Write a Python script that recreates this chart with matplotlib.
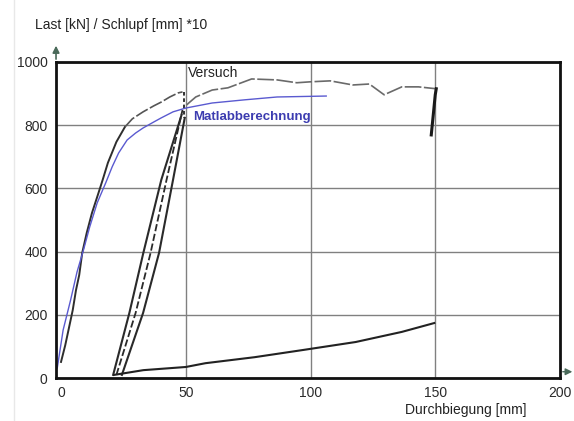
import matplotlib
matplotlib.use("Agg")
import matplotlib.pyplot as plt
from matplotlib.lines import Line2D

plt.rcParams['font.family'] = ['Liberation Sans', 'DejaVu Sans']

# Versuch (Messkurve), Erstbelastung bis Entlastung bei ~50 mm
versuch_x = [0, 1.7, 3.0, 4.7, 6.0, 7.3, 8.5, 10.3, 12.4, 15.0, 16.7, 18.8, 22.2, 25.6,
             28.6, 32.9, 37.2, 40.2, 43.6, 47.0, 48.7]
versuch_y = [51, 104, 152, 215, 278, 326, 396, 459, 522, 585, 627, 681, 747, 794,
             820, 842, 861, 873, 889, 902, 905]
# Versuch nach Wiederbelastung
versuch2_x = [49.1, 49.1, 50.4, 51.2, 54, 60.6, 66.9, 76.4, 86.6, 94.5, 100, 107.9,
              117, 123.6, 129.5, 136.6, 143.3, 150.4, 150, 149.2, 148.4]
versuch2_y = [905, 823, 864, 870, 889, 911, 918, 946, 943, 934, 937, 940,
              927, 930, 896, 921, 921, 915, 896, 832, 769]

# Ent-/Wiederbelastungsschleifen
loop1_x = [20.9, 27.4, 33, 40.2, 48.3]
loop1_y = [10, 206, 396, 627, 832]
loop2_x = [22.2, 29.9, 35.9, 42.3, 48.7]
loop2_y = [10, 206, 396, 627, 848]
loop3_x = [24.4, 32.9, 39.3, 44.9, 49.6]
loop3_y = [10, 206, 396, 627, 823]

# Schlupf *10
schlupf_x = [21.3, 33, 50, 57.9, 77.6, 97.2, 118.1, 136.6, 149.6]
schlupf_y = [10, 25, 35, 47, 66, 89, 114, 146, 174]

# Matlabberechnung
matlab_x = [-1.5, 0.85, 3.85, 6.4, 9.0, 11.5, 14.5, 17.9, 20.5, 23.1, 26.5, 29.9,
            32.9, 37.2, 40.2, 44.9, 50, 60.6, 73.6, 86.6, 106.3]
matlab_y = [32, 152, 247, 335, 405, 478, 554, 617, 668, 712, 753, 775,
            791, 810, 823, 842, 854, 870, 880, 889, 892]

x_ticks = [0, 50, 100, 150, 200]
y_ticks = [0, 200, 400, 600, 800, 1000]

fig = plt.figure(figsize=(5.74, 4.21), dpi=100)
ax = fig.add_axes([0.0976, 0.102, 0.878, 0.751])

k = 14  # Übergang dunkel -> gestrichelt
ax.plot(versuch_x[:k], versuch_y[:k], color='#2e2e2e', lw=1.4)
ax.plot(versuch_x[k - 1:], versuch_y[k - 1:], color='#555555', lw=1.2,
        linestyle=(0, (8, 1.5)))
ax.plot(versuch2_x[:2], versuch2_y[:2], color='#222222', lw=1.3, linestyle=(0, (2, 1.5)))
ax.plot(versuch2_x[2:-3], versuch2_y[2:-3], color='#6a6a6a', lw=1.2, linestyle=(0, (10, 1.5)))
ax.plot(versuch2_x[-4:], versuch2_y[-4:], color='#1a1a1a', lw=2.2)
ax.plot(loop1_x, loop1_y, color='#2a2a2a', lw=1.5)
ax.plot(loop2_x, loop2_y, color='#2a2a2a', lw=1.3, linestyle=(0, (4, 1.5)))
ax.plot(loop3_x, loop3_y, color='#2a2a2a', lw=1.5)
ax.plot(schlupf_x, schlupf_y, color='#222222', lw=1.5)
ax.plot(matlab_x, matlab_y, color='#5a5ad0', lw=1.0)

ax.text(50.8, 965, 'Versuch', fontsize=10, color='#222222', va='center')
ax.text(53, 826, 'Matlabberechnung', fontsize=9.5, color='#3c3cb0',
        fontweight='bold', va='center')

ax.set_xlim(-2, 200)
ax.set_ylim(0, 1000)
ax.set_xticks(x_ticks)
ax.set_yticks(y_ticks)
ax.tick_params(length=0, labelsize=10, labelcolor='#2a2a2a', pad=6)
ax.grid(True, color='#808080', lw=1.0)
ax.xaxis.get_gridlines()[0].set_visible(False)
for s in ax.spines.values():
    s.set_linewidth(2)
    s.set_color('#111111')

# Achsenpfeile
ax.annotate('', xy=(0, 1.06), xytext=(0, 1.0), xycoords='axes fraction',
            arrowprops=dict(arrowstyle='-|>', color='#4a6a5a', lw=1.2), annotation_clip=False)
ax.annotate('', xy=(1.03, 0.02), xytext=(1.0, 0.02), xycoords='axes fraction',
            arrowprops=dict(arrowstyle='-|>', color='#4a6a5a', lw=1.0), annotation_clip=False)

fig.text(35 / 574, 1 - 25 / 421, 'Last [kN] / Schlupf [mm] *10', fontsize=10,
         color='#222222', va='center', ha='left')
fig.text(405 / 574, 1 - 410 / 421, 'Durchbiegung [mm]', fontsize=10,
         color='#222222', va='center', ha='left')

fig.add_artist(Line2D([14 / 574, 14 / 574], [0, 1], color='#e8e8e8', lw=1))

fig.savefig('out.png', dpi=100)
